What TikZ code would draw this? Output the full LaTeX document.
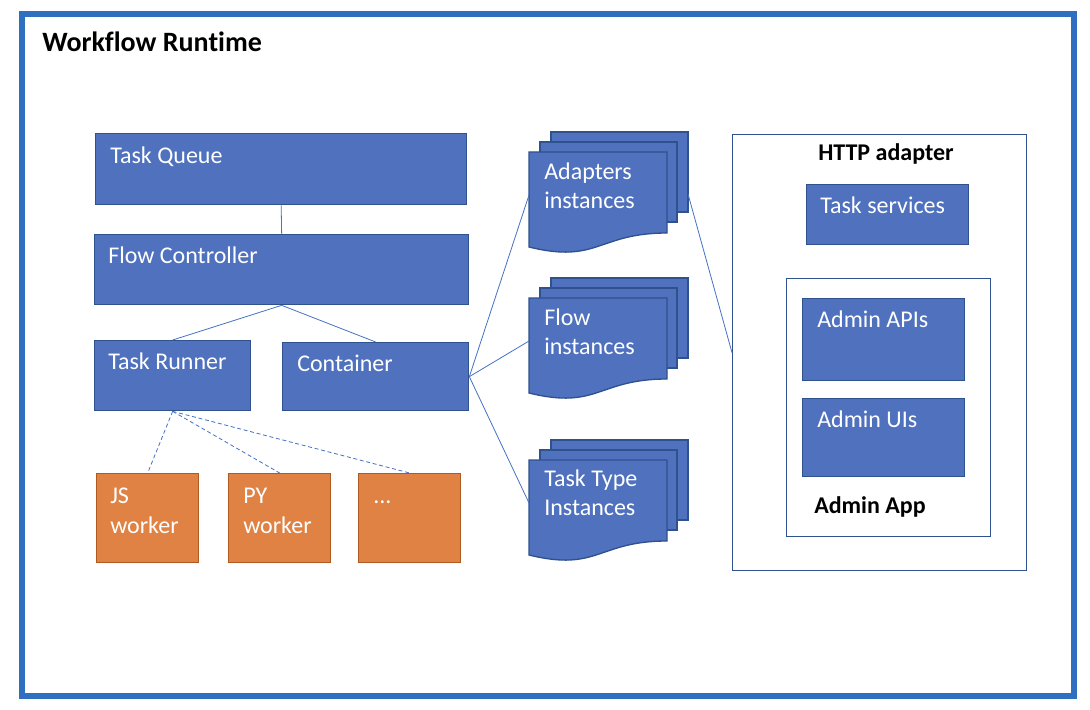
\documentclass[tikz,border=0pt]{standalone}
\usepackage{fontspec}
\setmainfont{Carlito}[Ligatures=NoCommon]
\usetikzlibrary{calc}
\definecolor{fillblue}{HTML}{4F71BE}
\definecolor{edgeblue}{HTML}{2F528F}
\definecolor{fillorange}{HTML}{DF8244}
\definecolor{edgeorange}{HTML}{AE5A21}
\definecolor{framecol}{HTML}{2F6FBF}
\definecolor{linkcol}{HTML}{4472C4}
\newcommand\mdocshape[3]{%
  \begin{scope}[shift={(#2,#3)}]
    \path[docpage] (22,-20) rectangle (159,60);
    \path[docpage] (11,-10) rectangle (148,70);
    \path[docpage] (0,0) -- (138,0) -- (138,81)
      .. controls (69,81) and (69,112) .. (0,95) -- cycle;
    \coordinate (#1-w) at (0,43);
    \coordinate (#1-e) at (159,42);
  \end{scope}}
\begin{document}
\begin{tikzpicture}[x=0.75pt,y=-0.75pt,
  sz/.style 2 args={minimum width=#1*0.75pt, minimum height=#2*0.75pt},
  bluebox/.style={draw=edgeblue, fill=fillblue, line width=1pt, inner sep=0pt, anchor=north west},
  orangebox/.style={draw=edgeorange, fill=fillorange, line width=1pt, inner sep=0pt, anchor=north west},
  plainbox/.style={draw=edgeblue, fill=white, line width=1pt, inner sep=0pt, anchor=north west},
  docpage/.style={draw=edgeblue, fill=fillblue, line width=1pt},
  wlabel/.style={text=white, font=\fontsize{18}{21.6}\selectfont, inner sep=0pt, anchor=base west, align=left},
  blabel/.style={text=black, font=\fontsize{18}{21.6}\selectfont\bfseries, inner sep=0pt, anchor=base west},
  link/.style={draw=linkcol, line width=0.6pt},
  dlink/.style={link, dash pattern=on 3pt off 2pt}]
\useasboundingbox (0,0) rectangle (1090,710);
\fill[white] (0,0) rectangle (1090,710);
\draw[framecol, line width=4.5pt] (22,14) rectangle (1074,695.5);
\node[blabel, font=\fontsize{21}{25}\selectfont\bfseries] (title) at (42,52) {Workflow Runtime};

% left column
\node[bluebox, sz={371}{71}] (tq) at (95,133) {};
\node[bluebox, sz={374}{70}] (fc) at (94,234) {};
\node[bluebox, sz={156}{70}] (tr) at (94,340) {};
\node[bluebox, sz={186}{68}] (ct) at (282,342) {};
\node[orangebox, sz={102}{89}] (js) at (96,473) {};
\node[orangebox, sz={102}{89}] (py) at (228,473) {};
\node[orangebox, sz={102}{89}] (more) at (358,473) {};

\node[wlabel] (tqt) at (110,163) {Task Queue};
\node[wlabel] (fct) at (108,263) {Flow Controller};
\node[wlabel] (trt) at (108,369) {Task Runner};
\node[wlabel] (ctt) at (297,371) {Container};
\node[wlabel, font=\fontsize{18}{22.5}\selectfont] (jst) at (110,533) {JS\\worker};
\node[wlabel, font=\fontsize{18}{22.5}\selectfont] (pyt) at (243,533) {PY\\worker};
\node[wlabel] (moret) at (373,503) {...};

% documents
\mdocshape{ad}{529}{152}
\mdocshape{fl}{529}{298}
\mdocshape{tt}{529}{460}
\node[wlabel] (adt) at (544,208) {Adapters\\instances};
\node[wlabel] (flt) at (544,354) {Flow\\instances};
\node[wlabel] (ttt) at (544,515) {Task Type\\Instances};

% right side
\node[plainbox, sz={294}{436}] (http) at (732,134) {};
\node[blabel, anchor=base] (httpt) at (886,161) {HTTP adapter};
\node[bluebox, sz={162}{60}] (ts) at (806,184) {};
\node[wlabel] (tst) at (820,213) {Task services};
\node[plainbox, sz={204}{258}] (app) at (786,278) {};
\node[bluebox, sz={162}{82}] (apis) at (802,298) {};
\node[bluebox, sz={162}{78}] (uis) at (802,398) {};
\node[wlabel] (apist) at (817,327) {Admin APIs};
\node[wlabel] (uist) at (817,427) {Admin UIs};
\node[blabel] (appt) at (814,513) {Admin App};

% connectors
\draw[link] (tq.south) -- (fc.north);
\draw[link] (fc.south) -- (tr.north);
\draw[link] (fc.south) -- (ct.north);
\draw[dlink] (tr.south) -- (js.north);
\draw[dlink] (tr.south) -- (py.north);
\draw[dlink] (tr.south) -- (more.north);
\draw[link] (ct.east) -- (ad-w);
\draw[link] (ct.east) -- (fl-w);
\draw[link] (ct.east) -- (tt-w);
\draw[link] (ad-e) -- (http.west);
\end{tikzpicture}
\end{document}
